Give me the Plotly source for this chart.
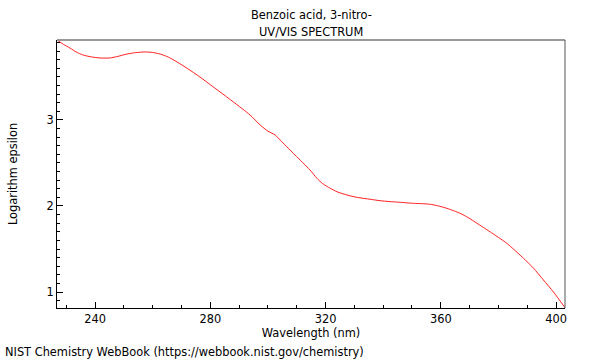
import plotly.graph_objects as go

wavelength = [226.8, 229.0, 231.3, 233.5, 235.8, 238.5, 241.7, 245.2, 248.0, 251.1,
              254.0, 257.4, 260.0, 262.6, 265.5, 268.5, 272.0, 276.4, 280.0, 283.4,
              288.0, 293.8, 297.3, 300.0, 302.5, 304.8, 309.4, 314.6, 317.0, 319.0,
              321.6, 324.0, 327.4, 331.0, 335.5, 338.9, 342.0, 345.9, 350.5, 353.5,
              356.3, 359.0, 362.1, 366.7, 369.5, 372.5, 377.1, 382.9, 388.7, 392.2,
              395.6, 399.1, 403.1]
log_eps = [3.93, 3.88, 3.837, 3.79, 3.756, 3.735, 3.721, 3.721, 3.74, 3.767,
           3.783, 3.791, 3.785, 3.767, 3.73, 3.674, 3.60, 3.50, 3.41, 3.326,
           3.21, 3.058, 2.942, 2.87, 2.826, 2.748, 2.593, 2.419, 2.322, 2.26,
           2.206, 2.165, 2.128, 2.10, 2.078, 2.062, 2.052, 2.043, 2.031, 2.027,
           2.02, 2.002, 1.973, 1.915, 1.865, 1.80, 1.70, 1.566, 1.392, 1.276,
           1.14, 1.00, 0.818]

x_ticks = [240, 280, 320, 360, 400]
y_ticks = [1, 2, 3]

FONT = "DejaVu Sans"
FS = 11.4

fig = go.Figure()
fig.add_trace(go.Scatter(x=wavelength, y=log_eps, mode="lines",
                         line=dict(color="#ff2020", width=1, shape="spline", smoothing=0.6),
                         hoverinfo="skip"))

fig.update_layout(
    width=600, height=360,
    margin=dict(l=57, r=35, t=40, b=52, autoexpand=False),
    paper_bgcolor="white", plot_bgcolor="white",
    showlegend=False,
    font=dict(family=FONT, size=FS, color="black"),
    xaxis=dict(range=[226.8, 403.1], tickvals=x_ticks, ticks="inside", ticklen=6,
               tickcolor="black", showline=True, linecolor="black", linewidth=1,
               showgrid=False, zeroline=False, automargin=False,
               minor=dict(dtick=10, tick0=0, ticks="inside", ticklen=3, tickcolor="black"),
               title=dict(text="Wavelength (nm)", standoff=2, font=dict(size=FS))),
    yaxis=dict(range=[0.814, 3.93], tickvals=y_ticks, ticks="inside", ticklen=6,
               tickcolor="black", showline=True, linecolor="black", linewidth=1,
               showgrid=False, zeroline=False, automargin=False,
               minor=dict(dtick=0.1, tick0=0, ticks="inside", ticklen=3, tickcolor="black"),
               title=dict(text="Logarithm epsilon", standoff=26, font=dict(size=FS))),
)

fig.add_shape(type="line", xref="paper", yref="paper", x0=0, x1=1, y0=1, y1=1,
              line=dict(color="#999999", width=2))
fig.add_shape(type="line", xref="paper", yref="paper", x0=1, x1=1, y0=0, y1=1,
              line=dict(color="#555555", width=1))

fig.add_annotation(text="Benzoic acid, 3-nitro-", xref="paper", yref="paper",
                   x=0.5, y=1, yshift=34, showarrow=False, font=dict(size=FS))
fig.add_annotation(text="UV/VIS SPECTRUM", xref="paper", yref="paper",
                   x=0.5, y=1, yshift=17, showarrow=False, font=dict(size=FS))
fig.add_annotation(text="NIST Chemistry WebBook (https://webbook.nist.gov/chemistry)",
                   xref="paper", yref="paper", x=-54/508, xanchor="left", y=0,
                   yshift=-53, showarrow=False, font=dict(size=FS))

fig.write_html("out.html", config={"displayModeBar": False},
               post_script="document.body.style.margin='0';")
